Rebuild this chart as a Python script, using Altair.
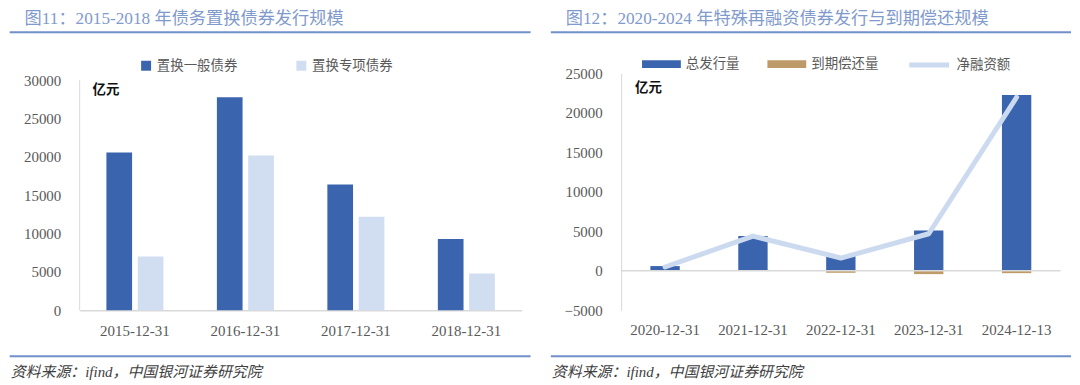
import altair as alt
import pandas as pd

# ---------------- data ----------------
left_dates = ["2015-12-31", "2016-12-31", "2017-12-31", "2018-12-31"]
left_series = ["置换一般债券", "置换专项债券"]
left_general = [20600, 27800, 16400, 9300]
left_special = [7000, 20200, 12200, 4800]

right_dates = ["2020-12-31", "2021-12-31", "2022-12-31", "2023-12-31", "2024-12-13"]
right_series = ["总发行量", "到期偿还量"]
right_total = [600, 4400, 1880, 5100, 22270]
right_maturity = [0, 0, -250, -420, -300]
right_net_name = "净融资额"
right_net = [480, 4400, 1620, 4700, 22000]

left_ticks = [0, 5000, 10000, 15000, 20000, 25000, 30000]
right_ticks = [-5000, 0, 5000, 10000, 15000, 20000, 25000]

title_left = "图11：2015-2018 年债务置换债券发行规模"
title_right = "图12：2020-2024 年特殊再融资债券发行与到期偿还规模"
source_text = "资料来源：ifind，中国银河证券研究院"
unit_text = "亿元"

# ---------------- styles ----------------
BLUE = "#3A64AE"
LIGHT = "#D1DDF0"
BROWN = "#BE9A68"
LINE = "#CCDAF0"
TITLE_C = "#7F9ACD"
RULE_C = "#7090CA"
AXIS_C = "#D9D9D9"
LABEL_C = "#595959"
SERIF = "Liberation Serif, Noto Sans CJK SC"
CJK = "Noto Sans CJK SC"

one = alt.Data(values=[{"k": 1}])

df_left = pd.DataFrame(
    [{"date": d, "series": left_series[0], "value": v} for d, v in zip(left_dates, left_general)]
    + [{"date": d, "series": left_series[1], "value": v} for d, v in zip(left_dates, left_special)]
)
df_right = pd.DataFrame(
    [{"date": d, "series": right_series[0], "value": v} for d, v in zip(right_dates, right_total)]
    + [{"date": d, "series": right_series[1], "value": v} for d, v in zip(right_dates, right_maturity)]
)
df_net = pd.DataFrame({"date": right_dates, "name": [right_net_name] * len(right_dates), "net": right_net})

axis_common = dict(labelFont=SERIF, labelFontSize=15, labelColor=LABEL_C, ticks=False,
                   tickSize=0, grid=False, labelOverlap=False)


def decor(title, tx, ty, rx1, rx2, ry_top, ry_bot, foot_y, unit_x, unit_y):
    t = alt.Chart(one).mark_text(
        text=title, font=SERIF, fontSize=17.3, color=TITLE_C, align="left", baseline="alphabetic"
    ).encode(x=alt.value(tx), y=alt.value(ty))
    r1 = alt.Chart(one).mark_rule(color=RULE_C, strokeWidth=2).encode(
        x=alt.value(rx1), x2=alt.value(rx2), y=alt.value(ry_top))
    r2 = alt.Chart(one).mark_rule(color=RULE_C, strokeWidth=2).encode(
        x=alt.value(rx1), x2=alt.value(rx2), y=alt.value(ry_bot))
    f = alt.Chart(one).mark_text(
        text=source_text, font=SERIF, fontSize=15, fontStyle="italic", color="#404040",
        align="left", baseline="alphabetic"
    ).encode(x=alt.value(rx1 + 1), y=alt.value(foot_y))
    u = alt.Chart(one).mark_text(
        text=unit_text, font=CJK, fontSize=13.5, fontWeight="bold", color="#111111",
        align="left", baseline="middle"
    ).encode(x=alt.value(unit_x), y=alt.value(unit_y))
    return [t, r1, r2, f, u]


# both plot areas share the same top (71.7px on the page)
TOP_EXTRA = 30883  # left scale top, so that 30000 sits 6.8px below the plot top

# ---------------- left panel ----------------
LW, LH = 444, 237.8
ly_scale = alt.Scale(domain=[0, TOP_EXTRA], nice=False)
ly_axis = alt.Axis(values=left_ticks, format="d", labelPadding=19, domain=False, **axis_common)
left_bars = alt.Chart(df_left).mark_bar().encode(
    x=alt.X("date:N", sort=left_dates, title=None,
            scale=alt.Scale(type="band", paddingInner=0.484, paddingOuter=0.242),
            axis=alt.Axis(labelAngle=0, labelPadding=13, domainColor=AXIS_C,
                          domainWidth=1.5, **axis_common)),
    xOffset=alt.XOffset("series:N", sort=left_series,
                        scale=alt.Scale(paddingInner=0.18, paddingOuter=0)),
    y=alt.Y("value:Q", title=None, scale=ly_scale, axis=ly_axis),
    color=alt.Color("series:N", sort=left_series,
                    scale=alt.Scale(domain=left_series, range=[BLUE, LIGHT]),
                    legend=alt.Legend(title=None, orient="none", legendX=60, legendY=-15,
                                      direction="horizontal", symbolType="square", symbolSize=100,
                                      symbolStrokeWidth=0, labelFont=CJK, labelFontSize=13.5,
                                      labelColor=LABEL_C, labelOffset=4, columnPadding=57,
                                      padding=0)),
)
left_yaxis = alt.Chart(one).mark_rule(color=AXIS_C, strokeWidth=1).encode(
    x=alt.value(0),
    y=alt.Y("a:Q", title=None, scale=ly_scale, axis=ly_axis), y2="b:Q",
).transform_calculate(a="0", b="30000")

left = alt.layer(
    left_bars, left_yaxis,
    *decor(title_left, -55.3, -50.2, -70.3, 453, -41.4, 284, 305.3, 13, 16.6),
).properties(width=LW, height=LH)

# ---------------- right panel ----------------
RW, RH = 441.5, 237.8
xr = alt.X("date:N", sort=right_dates, title=None,
           scale=alt.Scale(type="band", paddingInner=0.666, paddingOuter=0.333),
           axis=alt.Axis(labelAngle=0, labelPadding=12, domain=False, **axis_common))
yr_scale = alt.Scale(domain=[-5000, 25000], nice=False)
yr_axis = alt.Axis(values=right_ticks, format="d", labelPadding=19, domainColor=AXIS_C,
                   domainWidth=1, **axis_common)

zero = alt.Chart(one).mark_rule(color=AXIS_C, strokeWidth=1.5).encode(
    y=alt.Y("z:Q", title=None, scale=yr_scale, axis=yr_axis)).transform_calculate(z="0")

right_bars = alt.Chart(df_right).mark_bar().encode(
    x=xr,
    y=alt.Y("value:Q", title=None, stack=None, scale=yr_scale, axis=yr_axis),
    color=alt.Color("series:N", sort=right_series,
                    scale=alt.Scale(domain=right_series, range=[BLUE, BROWN]),
                    legend=alt.Legend(title=None, orient="none", legendX=21, legendY=-29,
                                      direction="horizontal",
                                      symbolType="M-1,-0.205H1V0.205H-1Z", symbolSize=1521,
                                      symbolStrokeWidth=0, labelFont=CJK, labelFontSize=13.5,
                                      labelColor=LABEL_C, labelOffset=5, columnPadding=28,
                                      padding=0)),
)
right_line = alt.Chart(df_net).mark_line(strokeWidth=5, strokeCap="round", strokeJoin="round").encode(
    x=xr,
    y=alt.Y("net:Q", title=None, scale=yr_scale, axis=yr_axis),
    stroke=alt.Stroke("name:N", scale=alt.Scale(domain=[right_net_name], range=[LINE]),
                      legend=alt.Legend(title=None, orient="none", legendX=287, legendY=-31,
                                        symbolType="stroke", symbolSize=1600, symbolStrokeWidth=5,
                                        labelFont=CJK, labelFontSize=13.5, labelColor=LABEL_C,
                                        labelOffset=5, padding=0)),
)
right = alt.layer(
    right_bars, zero, right_line,
    *decor(title_right, -55.6, -50.2, -70.6, 452, -41.4, 284, 305.3, 14, 14.3),
).properties(width=RW, height=RH)

chart = (
    alt.hconcat(left, right, spacing=18)
    .resolve_scale(color="independent", stroke="independent", x="independent", y="independent")
    .resolve_legend(color="independent", stroke="independent")
    .properties(padding=0)
    .configure_view(stroke=None)
)

chart.save("out.html", embed_options={"renderer": "svg", "actions": False})
